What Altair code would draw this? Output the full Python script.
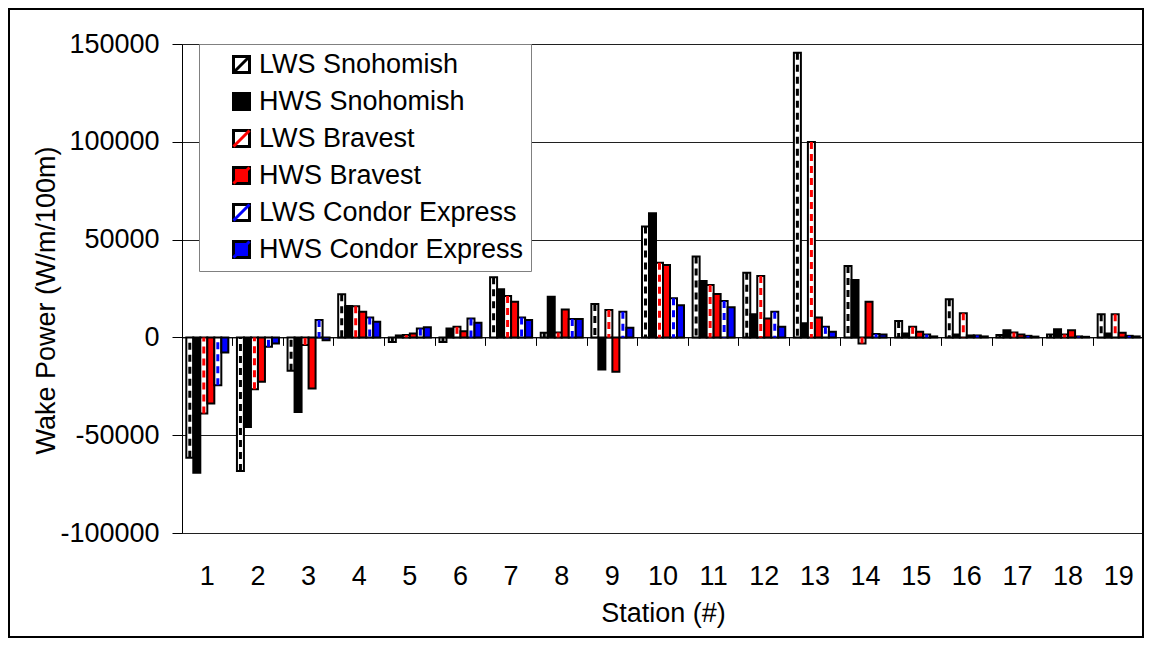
import altair as alt
import pandas as pd

stations = list(range(1, 20))
series = ["LWS Snohomish", "HWS Snohomish", "LWS Bravest", "HWS Bravest",
          "LWS Condor Express", "HWS Condor Express"]

lws_snohomish = [-61500, -68300, -17100, 22000, -2300, -2300, 30700, 2400, 17100, 56700,
                 41300, 33100, 145500, 36500, 8400, 19500, 1200, 1500, 11800]
hws_snohomish = [-69200, -45800, -38100, 16000, 1000, 4600, 24600, 20800, -16400, 63500,
                 28800, 11800, 7200, 29400, 2000, 1500, 3700, 4200, 2000]
lws_bravest = [-38900, -26500, -3900, 15900, 1200, 5400, 21200, 2500, 14000, 38200,
               26800, 31400, 99900, -3100, 5400, 12300, 2500, 1500, 11800]
hws_bravest = [-33800, -22700, -26100, 13100, 2000, 3200, 18200, 14300, -17600, 37000,
               22200, 9700, 10200, 18200, 2900, 1000, 1500, 3700, 2400]
lws_condor = [-24400, -4800, 8900, 10200, 4500, 9700, 10200, 9400, 13100, 20000,
              18600, 13100, 5400, 1700, 1500, 1000, 800, 500, 800]
hws_condor = [-7700, -3100, -1400, 8000, 5200, 7500, 8900, 9400, 4900, 16500,
              15400, 5400, 2900, 1500, 500, 500, 400, 300, 500]

fill_colors = ["#ffffff", "#000000", "#ffffff", "#ff0000", "#ffffff", "#0000ff"]
hatch_colors = ["#000000", "#000000", "#ff0000", "#ff0000", "#0000ff", "#0000ff"]
y_ticks = [-100000, -50000, 0, 50000, 100000, 150000]

all_values = [lws_snohomish, hws_snohomish, lws_bravest, hws_bravest, lws_condor, hws_condor]
rows = []
for name, vals in zip(series, all_values):
    for s, v in zip(stations, vals):
        rows.append({"station": s, "series": name, "value": v, "hatch": name + " "})
df = pd.DataFrame(rows)
lws_df = df[df["series"].str.startswith("LWS")]
hatch_domain = [s + " " for s in series]

FONT = "Liberation Sans"
FS = 27
PLOT_W, PLOT_H = 962, 489

x_scale = alt.Scale(paddingInner=0.17, paddingOuter=0.085)
xoff = alt.XOffset("series:N", scale=alt.Scale(domain=series, paddingInner=0, paddingOuter=0))
y_enc = alt.Y(
    "value:Q",
    scale=alt.Scale(domain=[-100000, 150000], nice=False, zero=False),
    axis=alt.Axis(values=y_ticks, labelExpr="'' + datum.value", title="Wake Power (W/m/100m)",
                  grid=True, gridColor="#202020", domainColor="black", tickColor="black",
                  tickSize=10, labelPadding=13, labelFontSize=FS, titleFontSize=FS,
                  titleFontWeight="normal", labelColor="black", titleColor="black",
                  titleX=-122, titleY=256, titleAngle=-90, titleAlign="center",
                  titleBaseline="bottom"),
)

legend_common = dict(orient="none", legendX=17, legendY=0, title=None,
                     labelFontSize=FS, labelFont=FONT, padding=7, symbolOffset=22,
                     symbolSize=256, labelOffset=4, rowPadding=8, labelLimit=600,
                     labelExpr="datum.label + '\u00a0\u00a0\u00a0'")

bars = alt.Chart(df).mark_bar(stroke="black", strokeWidth=2).encode(
    x=alt.X("station:O", scale=x_scale,
            axis=alt.Axis(orient="bottom", labelAngle=0, labelFontSize=FS, labelPadding=30,
                          ticks=False, domain=False, grid=False, title="Station (#)",
                          titleFontSize=FS, titleFontWeight="normal", titlePadding=11,
                          labelColor="black", titleColor="black")),
    xOffset=xoff,
    y=y_enc,
    fill=alt.Fill("series:N", scale=alt.Scale(domain=series, range=fill_colors),
                  legend=alt.Legend(symbolType="square", symbolStrokeWidth=3,
                                    symbolStrokeColor="black", strokeColor="#808080",
                                    fillColor="white", labelColor="black",
                                    **legend_common)),
)

hatch = alt.Chart(lws_df).mark_rule(strokeWidth=3, strokeDash=[7, 5]).encode(
    x=alt.X("station:O", scale=x_scale,
            axis=alt.Axis(orient="bottom", offset=-195.6, labels=False, ticks=True,
                          tickSize=8, tickColor="black", domain=True, domainColor="black",
                          grid=False, title=None, bandPosition=-0.1024)),
    xOffset=xoff,
    y=y_enc,
    y2=alt.datum(0),
    stroke=alt.Stroke("hatch:N", scale=alt.Scale(domain=hatch_domain, range=hatch_colors),
                      legend=alt.Legend(symbolType="M-1,1L1,-1", symbolStrokeWidth=3,
                                        symbolFillColor="transparent",
                                        symbolDash=[100, 0],
                                        labelColor="transparent",
                                        strokeColor="transparent",
                                        fillColor="transparent",
                                        **legend_common)),
)

frame = alt.Chart(pd.DataFrame({"a": [0]})).mark_rect(
    fill="transparent", stroke="black", strokeWidth=2
).encode(
    x=alt.value(-173), x2=alt.value(PLOT_W - 1),
    y=alt.value(-35), y2=alt.value(PLOT_H + 104),
)

chart = alt.layer(bars, hatch, frame).resolve_axis(x="independent").properties(
    width=PLOT_W, height=PLOT_H,
    autosize=alt.AutoSizeParams(type="none"),
    padding={"left": 174, "top": 36, "right": 0, "bottom": 105},
).configure(font=FONT).configure_view(stroke="#808080", strokeWidth=1, fill="white")

chart.save("out.html", embed_options={"renderer": "svg", "actions": False})
